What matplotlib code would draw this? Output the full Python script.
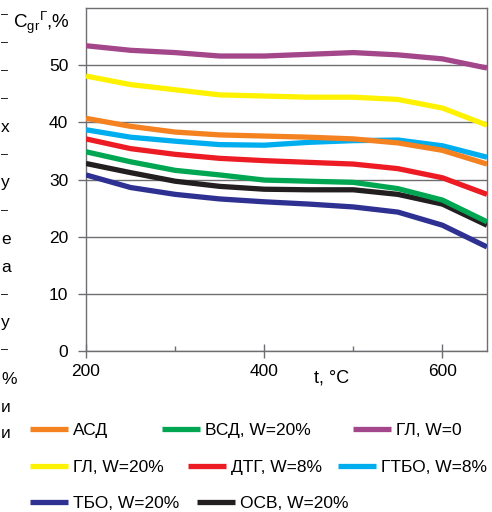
import matplotlib.pyplot as plt
from matplotlib.ticker import FixedLocator

plt.rcParams['font.family'] = ['Liberation Sans', 'DejaVu Sans']

# temperature, deg C
temps = [200, 250, 300, 350, 400, 450, 500, 550, 600, 650]

# C_gr, % for each fuel
asd = [40.7, 39.3, 38.3, 37.8, 37.6, 37.4, 37.1, 36.4, 35.1, 32.7]
vsd = [34.85, 33.1, 31.6, 30.8, 29.9, 29.7, 29.5, 28.4, 26.4, 22.6]
gl_w0 = [53.4, 52.6, 52.2, 51.6, 51.6, 51.9, 52.2, 51.8, 51.1, 49.5]
gl_w20 = [48.1, 46.6, 45.7, 44.8, 44.6, 44.4, 44.4, 44.0, 42.5, 39.5]
dtg = [37.1, 35.4, 34.4, 33.7, 33.3, 33.0, 32.7, 31.9, 30.3, 27.4]
gtbo = [38.7, 37.4, 36.7, 36.1, 36.0, 36.5, 36.8, 36.9, 35.9, 33.9]
tbo = [30.8, 28.6, 27.4, 26.6, 26.1, 25.7, 25.2, 24.3, 22.0, 18.2]
osv = [32.8, 31.2, 29.7, 28.8, 28.3, 28.2, 28.2, 27.4, 25.7, 22.0]

labels = ['АСД', 'ВСД, W=20%', 'ГЛ, W=0', 'ГЛ, W=20%',
          'ДТГ, W=8%', 'ГТБО, W=8%', 'ТБО, W=20%', 'ОСВ, W=20%']
series = [asd, vsd, gl_w0, gl_w20, dtg, gtbo, tbo, osv]
colors = ['#f58220', '#00a651', '#a3468a', '#fff200',
          '#ed1c24', '#00aeef', '#2e3192', '#231f20']
zorders = [5, 4, 4, 4, 4, 3, 4, 3.5]

# legend entry placement in pixels (handle left x, row centre y)
legend_pos = [(30, 430), (162, 430), (353, 430),
              (30, 467), (188, 467), (338, 467),
              (30, 503), (197, 503)]

W, H = 492, 512
fig = plt.figure(figsize=(W / 100, H / 100), dpi=100)
ax = fig.add_axes([86 / W, 1 - 351 / H, (487 - 86) / W, (351 - 8) / H])

gray = '#6d6e71'
lines = []
for vals, c, z in zip(series, colors, zorders):
    ln, = ax.plot(temps, vals, color=c, lw=3.8, zorder=z,
                  solid_capstyle='butt', solid_joinstyle='round')
    lines.append(ln)

ax.set_xlim(200, 650)
ax.set_ylim(0, 60)
ax.set_yticks([0, 10, 20, 30, 40, 50])
ax.xaxis.set_major_locator(FixedLocator([200, 400, 600]))
ax.xaxis.set_minor_locator(FixedLocator([300, 500]))

ax.grid(axis='y', color=gray, lw=1.0)
for s in ax.spines.values():
    s.set_color(gray)
    s.set_linewidth(1.0)

ax.tick_params(axis='y', direction='out', length=5.8, width=1.0, color=gray,
               labelsize=12.5, pad=7)
ax.tick_params(axis='x', which='major', direction='inout', length=9.4,
               width=1.0, color=gray, labelsize=12.5, pad=5)
ax.tick_params(axis='x', which='minor', direction='in', length=3.6,
               width=1.0, color=gray)

fig.text(332 / W, 1 - 378 / H, 't, °C', ha='center', va='center', fontsize=13)
fig.text(13 / W, 1 - 23 / H, r'$\mathregular{C_{gr}{}^{Г}}$,%',
         ha='left', va='center', fontsize=13.5)

for ln, lab, (px, py) in zip(lines, labels, legend_pos):
    fig.legend(handles=[ln], labels=[lab], loc='center left',
               bbox_to_anchor=(px / W, 1 - py / H), frameon=False,
               borderpad=0, borderaxespad=0, handlelength=2.2,
               handletextpad=0.3, fontsize=12.5)

# text fragments from the neighbouring column at the left edge
side_txt = ['–', '–', '–', '–', 'х', '–', 'у', '–', 'е', 'а',
            '–', 'у', '–', '%', 'и', 'и']
side_y = [15, 43, 71, 99, 127, 155, 183, 211, 240, 267,
          295, 322, 350, 380, 408, 433]
for t, y in zip(side_txt, side_y):
    fs = 9 if t == '–' else 12.5
    fig.text(1 / W, 1 - y / H, t, ha='left', va='center', fontsize=fs)

fig.savefig('out.png', dpi=100)
